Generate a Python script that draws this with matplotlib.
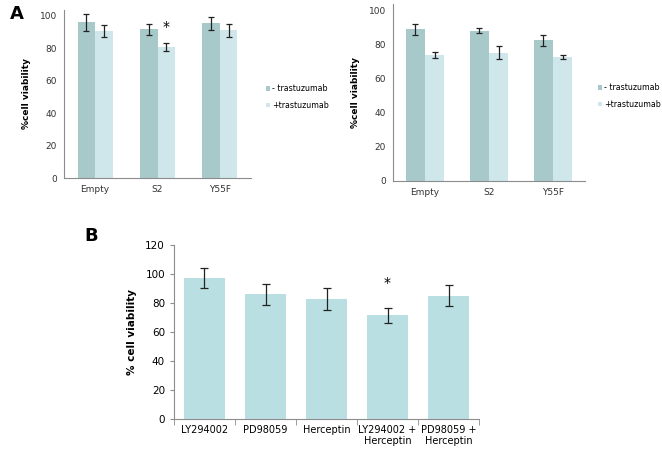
import numpy as np
import matplotlib
matplotlib.use('Agg')
import matplotlib.pyplot as plt

# panel A data
groups_a = ['Empty', 'S2', 'Y55F']
left_minus = [96, 91.8, 95.5]
left_minus_err = [5, 3.5, 4]
left_plus = [90.8, 80.9, 91.2]
left_plus_err = [3.6, 2.3, 3.9]

right_minus = [89.1, 88.3, 82.6]
right_minus_err = [3.2, 1.6, 3.3]
right_plus = [74, 75.3, 72.8]
right_plus_err = [1.7, 3.9, 1.4]

# panel B data
groups_b = ['LY294002', 'PD98059', 'Herceptin', 'LY294002 +\nHerceptin', 'PD98059 +\nHerceptin']
viab_b = [97.2, 86, 82.8, 71.5, 85]
viab_b_err = [6.6, 7.2, 7.7, 5.2, 7.3]

dark = '#a7c9ca'
light = '#cfe7eb'
bcol = '#b9dfe2'
W, H = 662, 451

fig = plt.figure(figsize=(W / 100, H / 100), dpi=100)


def ax_px(x0, x1, ytop, ybot):
    return fig.add_axes([x0 / W, 1 - ybot / H, (x1 - x0) / W, (ybot - ytop) / H])


def style(ax):
    for s in ['top', 'right']:
        ax.spines[s].set_visible(False)
    for s in ['left', 'bottom']:
        ax.spines[s].set_color('#8c8c8c')
        ax.spines[s].set_linewidth(0.8)


def panel_a(ax, m, me, p, pe, bw, legx, legy):
    x = np.arange(len(groups_a))
    ekw = dict(ecolor='#222222', elinewidth=0.9, capsize=2.5, capthick=0.9)
    ax.bar(x - bw / 2, m, bw, color=dark, yerr=me, error_kw=ekw, label='- trastuzumab')
    ax.bar(x + bw / 2, p, bw, color=light, yerr=pe, error_kw=ekw, label='+trastuzumab')
    ax.set_xlim(-0.5, 2.5)
    ax.set_ylim(0, 104)
    ax.set_yticks([0, 20, 40, 60, 80, 100])
    ax.set_xticks(x)
    ax.set_xticklabels(groups_a)
    ax.tick_params(length=0, labelsize=6.5, colors='#333333', pad=5)
    ax.set_ylabel('%cell viability', fontsize=6.5, fontweight='bold', labelpad=6)
    style(ax)
    ax.legend(loc='center left', bbox_to_anchor=(legx / W, 1 - legy / H), frameon=False,
              fontsize=5.7, handlelength=0.5, handleheight=0.5, handletextpad=0.25,
              labelspacing=0.95, borderpad=0, borderaxespad=0,
              bbox_transform=fig.transFigure)


axL = ax_px(64, 251, 9.5, 178)
panel_a(axL, left_minus, left_minus_err, left_plus, left_plus_err, 0.28, 266, 97)
axL.text(1 + 0.14, 93, '*', ha='center', va='center', fontsize=10)

axR = ax_px(393, 585, 4, 181)
panel_a(axR, right_minus, right_minus_err, right_plus, right_plus_err, 0.30, 598, 96)

fig.text(10 / W, 1 - 14 / H, 'A', fontsize=13, fontweight='bold', va='center', ha='left')
fig.text(84 / W, 1 - 236 / H, 'B', fontsize=13, fontweight='bold', va='center', ha='left')

axB = ax_px(174, 479, 245, 419)
xb = np.arange(len(groups_b))
axB.bar(xb, viab_b, 0.66, color=bcol, yerr=viab_b_err,
        error_kw=dict(ecolor='#222222', elinewidth=0.9, capsize=3, capthick=0.9))
axB.set_xlim(-0.5, 4.5)
axB.set_ylim(0, 120)
axB.set_yticks(range(0, 121, 20))
axB.set_xticks(xb)
axB.set_xticklabels(groups_b)
axB.set_xticks(np.arange(-0.5, 4.6, 1), minor=True)
axB.tick_params(axis='x', which='major', length=0, labelsize=7, pad=4)
axB.tick_params(axis='x', which='minor', length=4, color='#8c8c8c', direction='out')
axB.tick_params(axis='y', length=3, color='#8c8c8c', labelsize=7.5)
axB.set_ylabel('% cell viability', fontsize=7.5, fontweight='bold', labelpad=6)
style(axB)
axB.text(3, 94, '*', ha='center', va='center', fontsize=10)

fig.savefig('out.png', dpi=100)
